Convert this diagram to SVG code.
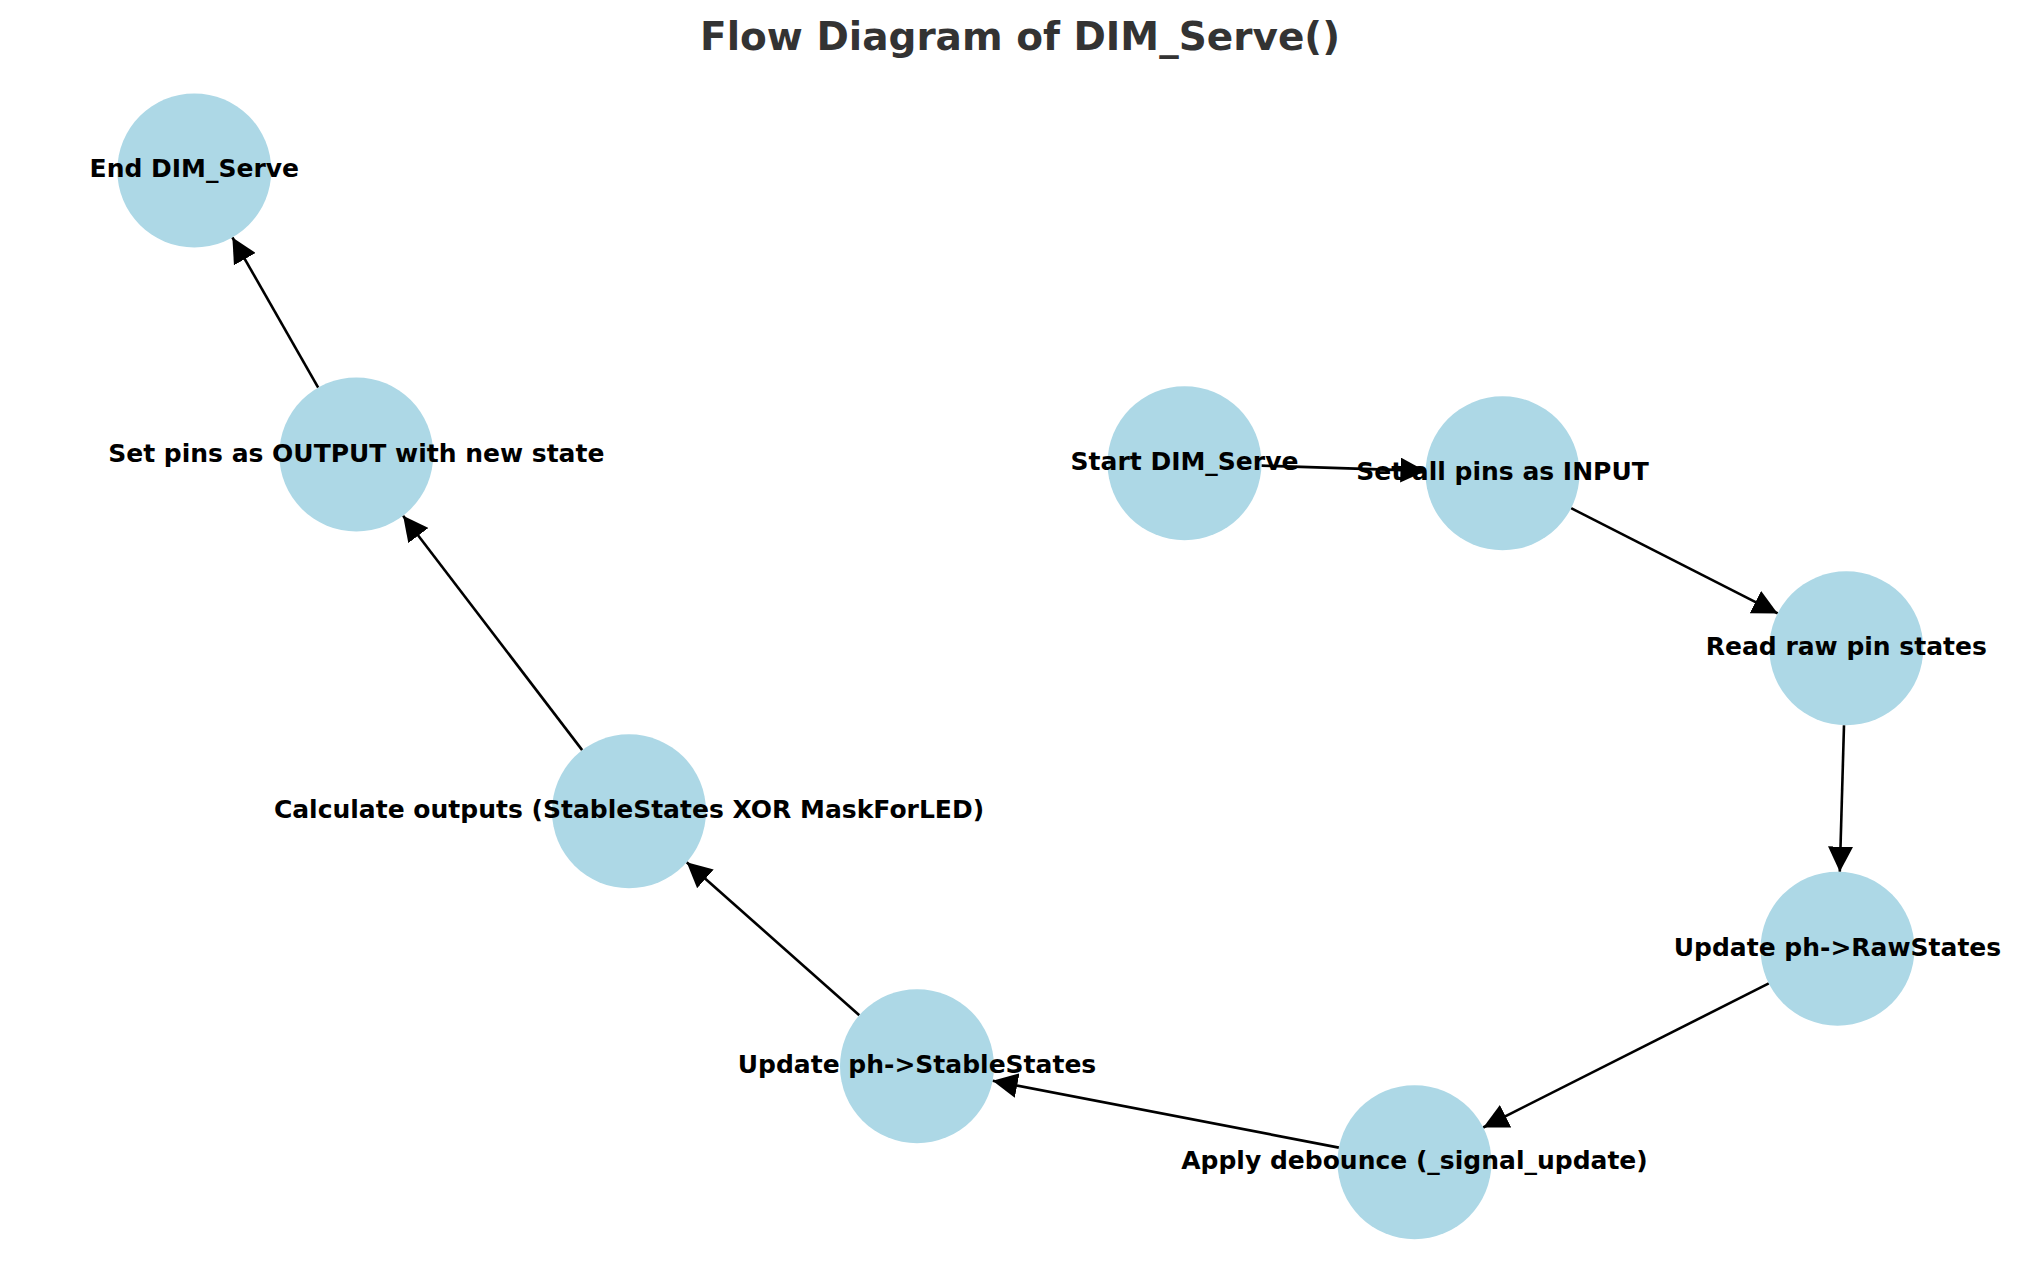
<svg xmlns="http://www.w3.org/2000/svg" width="2039" height="1286" viewBox="0 0 2039 1286">
<style>
.node circle{fill:#ADD8E6;}
.node text{font-family:"DejaVu Sans",sans-serif;font-weight:bold;font-size:25px;text-anchor:middle;fill:#000;}
.edges line{stroke:#000;stroke-width:2.6;fill:none;}
.title{font-family:"DejaVu Sans",sans-serif;font-weight:bold;font-size:39px;text-anchor:middle;fill:#333333;}
</style>
<defs>
<marker id="arr" markerUnits="userSpaceOnUse" markerWidth="25" markerHeight="25" refX="25" refY="12.5" orient="auto" viewBox="0 0 25 25">
<path d="M0,0 L25,12.5 L0,25 z" fill="#000"/>
</marker>
</defs>
<rect width="2039" height="1286" fill="#fff"/>
<text class="title" x="1020" y="50">Flow Diagram of DIM_Serve()</text>
<g class="edges">
<line x1="1261.5" y1="465.6" x2="1425.5" y2="470.9" marker-end="url(#arr)"/>
<line x1="1571.1" y1="508.2" x2="1777.7" y2="613.4" marker-end="url(#arr)"/>
<line x1="1844.0" y1="725.3" x2="1839.8" y2="871.7" marker-end="url(#arr)"/>
<line x1="1768.8" y1="983.4" x2="1483.2" y2="1127.5" marker-end="url(#arr)"/>
<line x1="1338.9" y1="1147.6" x2="992.6" y2="1080.8" marker-end="url(#arr)"/>
<line x1="859.3" y1="1015.2" x2="686.7" y2="862.3" marker-end="url(#arr)"/>
<line x1="582.2" y1="750.1" x2="403.1" y2="515.7" marker-end="url(#arr)"/>
<line x1="318.2" y1="387.6" x2="232.4" y2="237.4" marker-end="url(#arr)"/>
</g>
<g id="start" class="node"><circle cx="1184.5" cy="463.2" r="77"/><text x="1184.5" y="470">Start DIM_Serve</text></g>
<g id="input" class="node"><circle cx="1502.5" cy="473.3" r="77"/><text x="1502.5" y="480">Set all pins as INPUT</text></g>
<g id="read" class="node"><circle cx="1846.3" cy="648.3" r="77"/><text x="1846.3" y="655">Read raw pin states</text></g>
<g id="raw" class="node"><circle cx="1837.5" cy="948.7" r="77"/><text x="1837.5" y="955.5">Update ph-&gt;RawStates</text></g>
<g id="debounce" class="node"><circle cx="1414.5" cy="1162.2" r="77"/><text x="1414.5" y="1169">Apply debounce (_signal_update)</text></g>
<g id="stable" class="node"><circle cx="917" cy="1066.2" r="77"/><text x="917" y="1073">Update ph-&gt;StableStates</text></g>
<g id="calc" class="node"><circle cx="629" cy="811.3" r="77"/><text x="629" y="818">Calculate outputs (StableStates XOR MaskForLED)</text></g>
<g id="output" class="node"><circle cx="356.3" cy="454.5" r="77"/><text x="356.3" y="461.5">Set pins as OUTPUT with new state</text></g>
<g id="end" class="node"><circle cx="194.3" cy="170.5" r="77"/><text x="194.3" y="177">End DIM_Serve</text></g>
</svg>
